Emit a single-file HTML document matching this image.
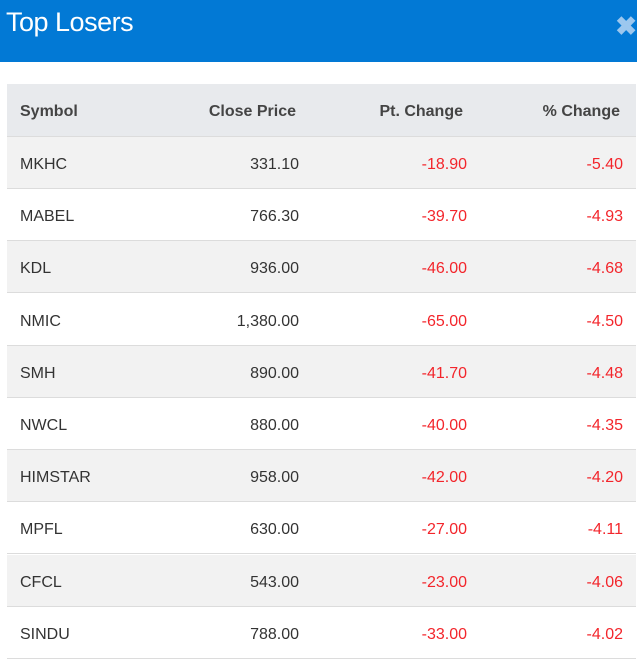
<!DOCTYPE html>
<html><head><meta charset="utf-8"><style>
body{margin:0;width:637px;height:654px;overflow:hidden;background:#fff;font-family:"Liberation Sans",sans-serif;position:relative}
.hdr{position:absolute;left:0;top:0;width:637px;height:62px;background:#0279d5}
.title{position:absolute;left:6px;top:7px;color:#fff;font-size:27px;letter-spacing:-0.5px}
.x{position:absolute;right:0px;top:11px;color:#9cc7ee;font-size:26px;font-weight:bold}
.row{position:absolute;left:7px;width:629px;border-bottom:1px solid #dcdcdc}
.c{position:absolute;top:2px;font-size:16px;color:#333;white-space:nowrap}
.r{text-align:right}
.red{color:#f3252b}
.h .c{color:#444;font-weight:bold;font-size:16px}
</style></head><body>
<div class="hdr"><div class="title">Top Losers</div><div class="x">✖</div></div>
<div class="row h" style="top:84px;height:52px;background:#e8eaed">
<div class="c" style="left:13px;line-height:52px">Symbol</div>
<div class="c r" style="right:340px;line-height:52px">Close Price</div>
<div class="c r" style="right:173px;line-height:52px">Pt. Change</div>
<div class="c r" style="right:16px;line-height:52px">% Change</div>
</div>
<div id="rows"></div>
<script>
var d=[["MKHC","331.10","-18.90","-5.40"],["MABEL","766.30","-39.70","-4.93"],["KDL","936.00","-46.00","-4.68"],["NMIC","1,380.00","-65.00","-4.50"],["SMH","890.00","-41.70","-4.48"],["NWCL","880.00","-40.00","-4.35"],["HIMSTAR","958.00","-42.00","-4.20"],["MPFL","630.00","-27.00","-4.11"],["CFCL","543.00","-23.00","-4.06"],["SINDU","788.00","-33.00","-4.02"]];
var h="";d.forEach(function(r,i){var t=137+i*52.2;h+='<div class="row" style="top:'+t+'px;height:51px;background:'+(i%2==0?'#f2f2f2':'#fff')+'"><div class="c" style="left:13px;line-height:51px">'+r[0]+'</div><div class="c r" style="right:337px;line-height:51px">'+r[1]+'</div><div class="c r red" style="right:169px;line-height:51px">'+r[2]+'</div><div class="c r red" style="right:13px;line-height:51px">'+r[3]+'</div></div>'});
document.getElementById("rows").innerHTML=h;
</script>
</body></html>
